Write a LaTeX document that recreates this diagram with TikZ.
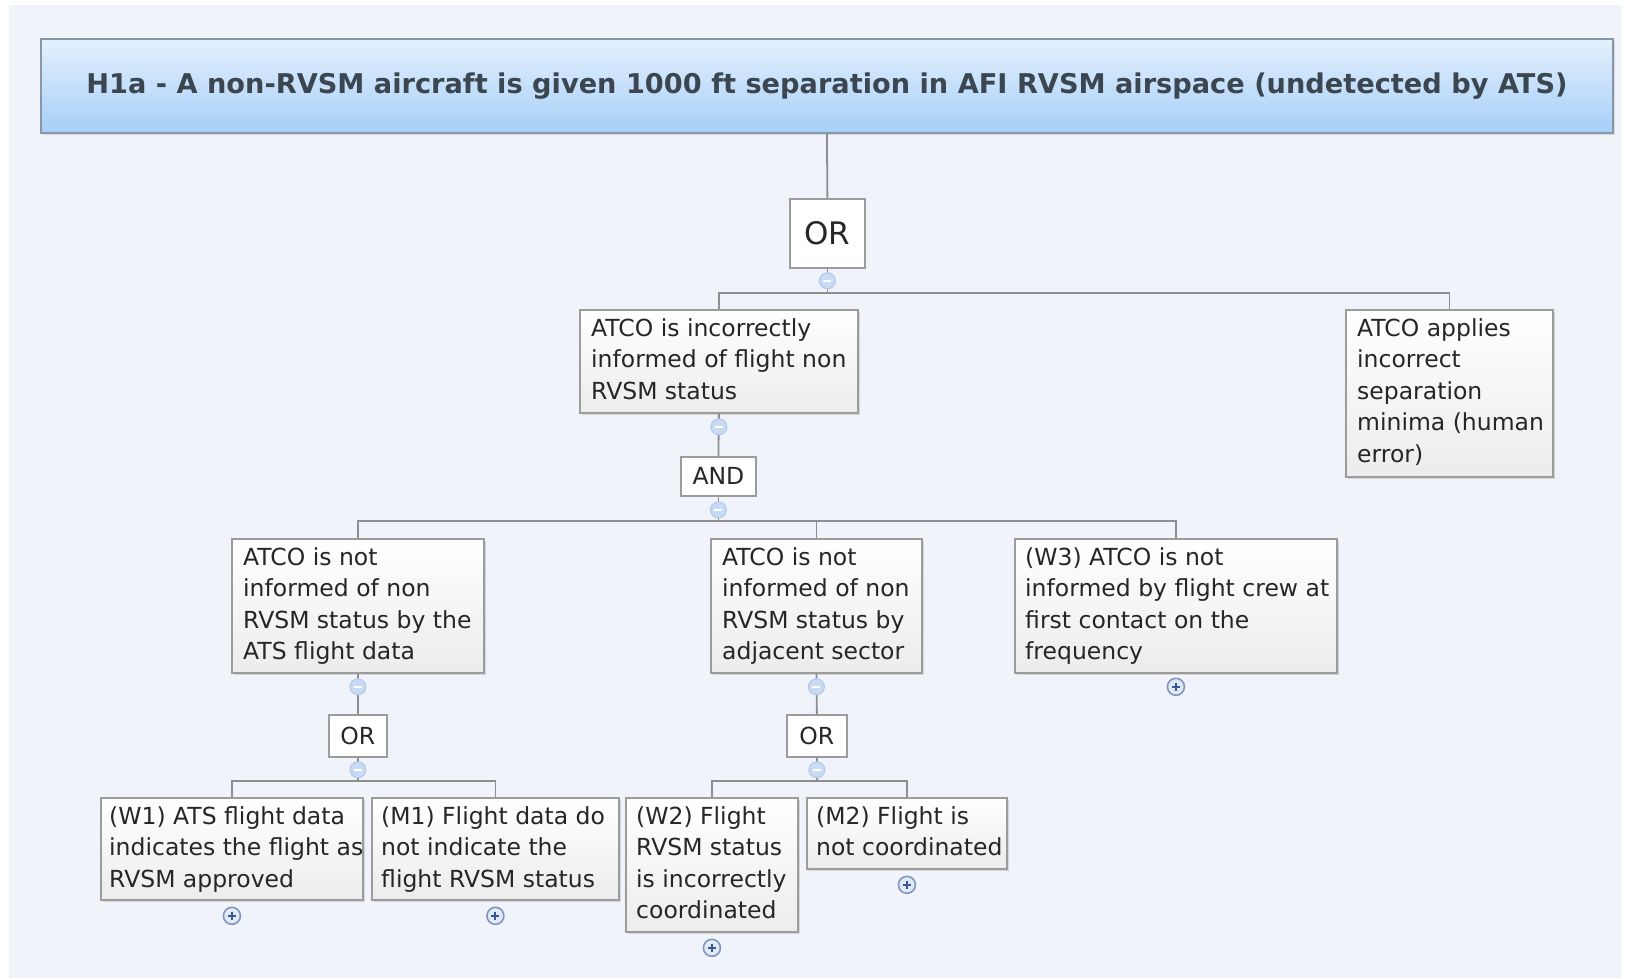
\documentclass[tikz,border=0pt]{standalone}
\usepackage{fontspec}
\setmainfont{DejaVu Sans}
\usetikzlibrary{calc,shadows}
\definecolor{pagebg}{HTML}{F0F3FA}
\definecolor{linec}{HTML}{8E8E8E}
\definecolor{boxline}{HTML}{9C9C9C}
\definecolor{boxbot}{HTML}{ECECEC}
\definecolor{txt}{HTML}{262626}
\definecolor{hdrtop}{HTML}{E4F0FD}
\definecolor{hdrbot}{HTML}{A6CFF8}
\definecolor{hdrline}{HTML}{8898A8}
\definecolor{hdrtxt}{HTML}{3C4650}
\definecolor{dotfill}{HTML}{C8DAF4}
\definecolor{dotedge}{HTML}{B0C8EC}
\definecolor{plusfill}{HTML}{E2E9F5}
\definecolor{plusring}{HTML}{7F96BE}
\definecolor{plusmark}{HTML}{34589A}
\tikzset{
  conn/.style={draw=linec, line width=1.8pt},
  tbox/.style={draw=boxline, line width=1.8pt, top color=white, bottom color=boxbot,
    drop shadow={shadow xshift=2pt, shadow yshift=-2pt, fill=black!30, opacity=.45},
    anchor=north west, inner sep=0pt},
  btext/.style={anchor=north west, inner sep=0pt, align=left, text=txt,
    font=\fontsize{23.5}{31.5}\selectfont},
  gate/.style={draw=boxline, line width=1.8pt, fill=white, inner sep=0pt,
    anchor=north west, text=txt, font=\fontsize{23.5}{28}\selectfont},
  colldot/.style={circle, minimum size=16pt, inner sep=0pt, fill=dotfill, draw=dotedge, line width=1pt},
  expdot/.style={circle, minimum size=17pt, inner sep=0pt, fill=plusfill, draw=plusring, line width=1.6pt},
  pmark/.style={draw=plusmark, line width=2pt},
  mmark/.style={draw=white, line width=1.4pt},
}
\begin{document}
\begin{tikzpicture}[x=1pt, y={(0pt,-1pt)}]
  % page
  \fill[white] (0,0) rectangle (1628,978);
  \fill[pagebg] (9,5) rectangle (1621,978);
  \useasboundingbox (0,0) rectangle (1628,978);

  % top event
  \node[draw=hdrline, line width=1.8pt, top color=hdrtop, bottom color=hdrbot,
        drop shadow={shadow xshift=2pt, shadow yshift=-2pt, fill=black!30, opacity=.4},
        anchor=north west, minimum width=1572pt, minimum height=94pt, inner sep=0pt,
        text=hdrtxt, font=\fontsize{27.2}{30}\selectfont\bfseries] (top) at (40,38)
        {H1a - A non-RVSM aircraft is given 1000 ft separation in AFI RVSM airspace (undetected by ATS)};

  % gates
  \node[gate, minimum width=75pt, minimum height=69pt, font=\fontsize{31}{34}\selectfont] (g0) at (789,198) {OR};
  \node[gate, minimum width=75pt, minimum height=39pt] (g1) at (680,456) {AND};
  \node[gate, minimum width=58pt, minimum height=42pt] (g2) at (328,714) {OR};
  \node[gate, minimum width=60pt, minimum height=42pt] (g3) at (786,714) {OR};

  % event boxes
  \node[tbox, minimum width=278pt, minimum height=103pt] (A) at (579,309) {};
  \node[tbox, minimum width=207pt, minimum height=167pt] (B) at (1345,309) {};
  \node[tbox, minimum width=252pt, minimum height=134pt] (C1) at (231,538) {};
  \node[tbox, minimum width=211pt, minimum height=134pt] (C2) at (710,538) {};
  \node[tbox, minimum width=322pt, minimum height=134pt] (C3) at (1014,538) {};
  \node[tbox, minimum width=262pt, minimum height=102pt] (D1) at (100,797) {};
  \node[tbox, minimum width=247pt, minimum height=102pt] (D2) at (371,797) {};
  \node[tbox, minimum width=172pt, minimum height=134pt] (D3) at (625,797) {};
  \node[tbox, minimum width=200pt, minimum height=71pt] (D4) at (806,797) {};

  % box texts
  \node[btext] (tA) at ($(A.north west)+(12,5)$) {\strut ATCO is incorrectly\\informed of flight non\\RVSM status};
  \node[btext] (tB) at ($(B.north west)+(12,5)$) {\strut ATCO applies\\incorrect\\separation\\minima (human\\error)};
  \node[btext] (tC1) at ($(C1.north west)+(12,5)$) {\strut ATCO is not\\informed of non\\RVSM status by the\\ATS flight data};
  \node[btext] (tC2) at ($(C2.north west)+(12,5)$) {\strut ATCO is not\\informed of non\\RVSM status by\\adjacent sector};
  \node[btext] (tC3) at ($(C3.north west)+(11,5)$) {\strut (W3) ATCO is not\\informed by flight crew at\\first contact on the\\frequency};
  \node[btext] (tD1) at ($(D1.north west)+(9,5)$) {\strut (W1) ATS flight data\\indicates the flight as\\RVSM approved};
  \node[btext] (tD2) at ($(D2.north west)+(10,5)$) {\strut (M1) Flight data do\\not indicate the\\flight RVSM status};
  \node[btext] (tD3) at ($(D3.north west)+(11,5)$) {\strut (W2) Flight\\RVSM status\\is incorrectly\\coordinated};
  \node[btext] (tD4) at ($(D4.north west)+(10,5)$) {\strut (M2) Flight is\\not coordinated};

  % collapse markers
  \coordinate (m0) at ($(g0.south)+(0,12)$);
  \coordinate (m1) at ($(A.south)+(0,13)$);
  \coordinate (m2) at ($(g1.south)+(0,13)$);
  \coordinate (m3) at ($(C1.south)+(0,13)$);
  \coordinate (m4) at ($(g2.south)+(0,12)$);
  \coordinate (m5) at ($(C2.south)+(0,13)$);
  \coordinate (m6) at ($(g3.south)+(0,12)$);

  % connectors
  \coordinate (bus0) at ($(A.north)+(0,-16)$);
  \coordinate (bus1) at ($(C1.north)+(0,-17)$);
  \coordinate (bus2) at ($(D1.north)+(0,-16)$);
  \coordinate (bus3) at ($(D3.north)+(0,-16)$);
  \draw[conn] (top.south) -- (g0.north);
  \draw[conn] (g0.south) -- (g0.south |- bus0);
  \draw[conn] (A.north) -- (A.north |- bus0) -| (B.north);
  \draw[conn] (A.south) -- (g1.north);
  \draw[conn] (g1.south) -- (g1.south |- bus1);
  \draw[conn] (C1.north) -- (C1.north |- bus1) -| (C3.north);
  \draw[conn] (C2.north) -- (C2.north |- bus1);
  \draw[conn] (C1.south) -- (g2.north);
  \draw[conn] (g2.south) -- (g2.south |- bus2);
  \draw[conn] (D1.north) -- (D1.north |- bus2) -| (D2.north);
  \draw[conn] (C2.south) -- (g3.north);
  \draw[conn] (g3.south) -- (g3.south |- bus3);
  \draw[conn] (D3.north) -- (D3.north |- bus3) -| (D4.north);

  % markers drawn over the lines
  \foreach \m in {m0,m1,m2,m3,m4,m5,m6}{
    \node[colldot] at (\m) {};
    \draw[mmark] ($(\m)+(-4,0)$) -- ($(\m)+(4,0)$);
  }
  \node[expdot] (p1) at ($(D1.south)+(0,15)$) {};
  \node[expdot] (p2) at ($(D2.south)+(0,15)$) {};
  \node[expdot] (p3) at ($(D3.south)+(0,15)$) {};
  \node[expdot] (p4) at ($(D4.south)+(0,15)$) {};
  \node[expdot] (p5) at ($(C3.south)+(0,13)$) {};
  \foreach \p in {p1,p2,p3,p4,p5}{
    \draw[pmark] ($(\p)+(-4,0)$) -- ($(\p)+(4,0)$);
    \draw[pmark] ($(\p)+(0,-4)$) -- ($(\p)+(0,4)$);
  }
\end{tikzpicture}
\end{document}
